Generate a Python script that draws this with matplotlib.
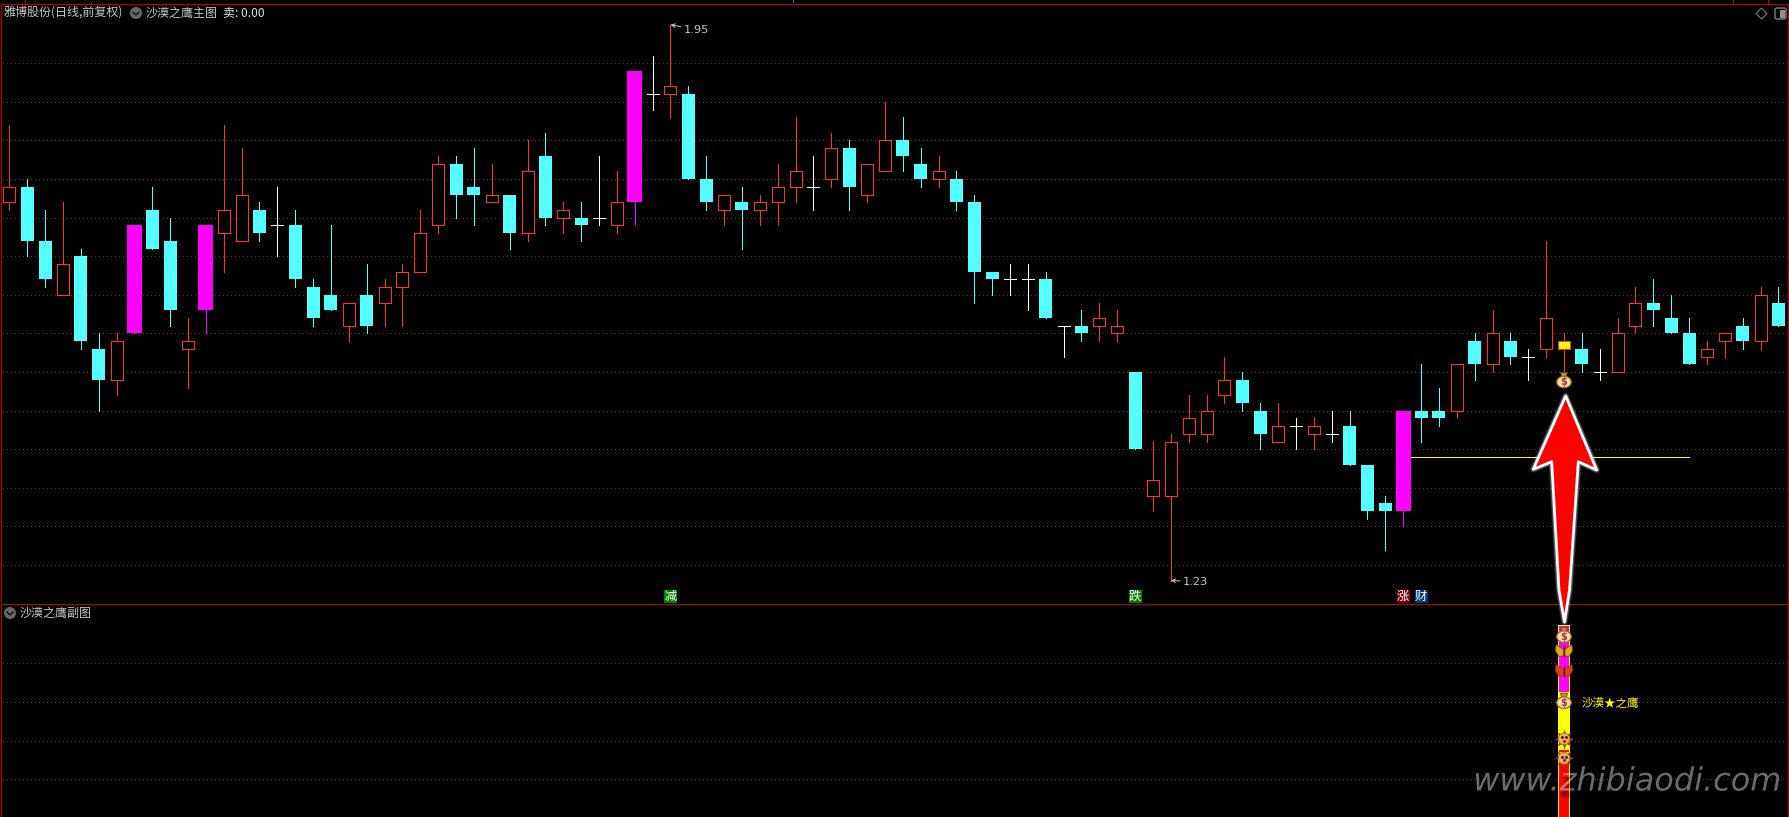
import matplotlib
matplotlib.use("Agg")
import matplotlib.pyplot as plt
import matplotlib.patheffects as pe
from matplotlib.patches import Circle, Ellipse, Polygon, FancyBboxPatch

CJK = ['Noto Sans CJK SC', 'DejaVu Sans']
plt.rcParams['font.family'] = CJK
plt.rcParams['axes.unicode_minus'] = False

# ── candles (price steps of 0.01) ──
# r hollow red, c cyan, m magenta, w white doji, y yellow
kinds = ("rccrccrmcc" "rmrrcwcccr" "crrrrccrcr" "crcwrmwrcc" "rcrrrwrcrr"
         "ccrcccwwcw" "crrcrrrrrc" "crwrwcccmc" "crcrcwrycw" "rrcccrrcrc")
highs = [1.82, 1.75, 1.71, 1.72, 1.66, 1.55, 1.55, 1.69, 1.74, 1.70,
         1.57, 1.69, 1.82, 1.79, 1.72, 1.74, 1.71, 1.62, 1.69, 1.59,
         1.64, 1.62, 1.64, 1.71, 1.78, 1.78, 1.79, 1.77, 1.73, 1.80,
         1.81, 1.72, 1.72, 1.78, 1.76, 1.89, 1.91, 1.95, 1.87, 1.78,
         1.73, 1.74, 1.73, 1.77, 1.83, 1.78, 1.81, 1.80, 1.77, 1.85,
         1.83, 1.79, 1.78, 1.76, 1.73, 1.63, 1.64, 1.64, 1.63, 1.56,
         1.58, 1.59, 1.58, 1.50, 1.41, 1.42, 1.47, 1.47, 1.52, 1.50,
         1.46, 1.46, 1.44, 1.44, 1.45, 1.45, 1.38, 1.34, 1.45, 1.51,
         1.48, 1.51, 1.55, 1.58, 1.55, 1.53, 1.67, 1.55, 1.55, 1.53,
         1.57, 1.61, 1.62, 1.60, 1.57, 1.54, 1.55, 1.57, 1.61, 1.61]
body_top = [1.74, 1.74, 1.67, 1.64, 1.65, 1.53, 1.54, 1.69, 1.71, 1.67,
            1.54, 1.69, 1.71, 1.73, 1.71, 1.69, 1.69, 1.61, 1.60, 1.59,
            1.60, 1.61, 1.63, 1.68, 1.77, 1.77, 1.74, 1.73, 1.73, 1.76,
            1.78, 1.71, 1.70, 1.70, 1.72, 1.89, 1.86, 1.87, 1.86, 1.75,
            1.73, 1.72, 1.72, 1.74, 1.76, 1.74, 1.79, 1.79, 1.77, 1.80,
            1.80, 1.77, 1.76, 1.75, 1.72, 1.63, 1.62, 1.62, 1.62, 1.56,
            1.56, 1.57, 1.56, 1.50, 1.36, 1.41, 1.44, 1.45, 1.49, 1.49,
            1.45, 1.43, 1.43, 1.43, 1.42, 1.43, 1.38, 1.33, 1.45, 1.45,
            1.45, 1.51, 1.54, 1.55, 1.54, 1.52, 1.57, 1.54, 1.53, 1.50,
            1.55, 1.59, 1.59, 1.57, 1.55, 1.53, 1.55, 1.56, 1.60, 1.59]
body_bot = [1.72, 1.67, 1.62, 1.60, 1.54, 1.49, 1.49, 1.55, 1.66, 1.58,
            1.53, 1.58, 1.68, 1.67, 1.68, 1.69, 1.62, 1.57, 1.58, 1.56,
            1.56, 1.59, 1.61, 1.63, 1.69, 1.73, 1.73, 1.72, 1.68, 1.68,
            1.70, 1.70, 1.69, 1.70, 1.69, 1.72, 1.86, 1.86, 1.75, 1.72,
            1.71, 1.71, 1.71, 1.72, 1.74, 1.74, 1.75, 1.74, 1.73, 1.76,
            1.78, 1.75, 1.75, 1.72, 1.63, 1.62, 1.62, 1.62, 1.57, 1.56,
            1.55, 1.56, 1.55, 1.40, 1.34, 1.34, 1.42, 1.42, 1.47, 1.46,
            1.42, 1.41, 1.43, 1.42, 1.42, 1.38, 1.32, 1.32, 1.32, 1.44,
            1.44, 1.45, 1.51, 1.51, 1.52, 1.52, 1.53, 1.53, 1.51, 1.50,
            1.50, 1.56, 1.58, 1.55, 1.51, 1.52, 1.54, 1.54, 1.54, 1.56]
lows = [1.71, 1.65, 1.61, 1.60, 1.53, 1.45, 1.47, 1.55, 1.66, 1.56,
        1.48, 1.55, 1.63, 1.67, 1.67, 1.65, 1.61, 1.56, 1.58, 1.54,
        1.55, 1.56, 1.56, 1.63, 1.68, 1.70, 1.69, 1.72, 1.66, 1.67,
        1.69, 1.68, 1.67, 1.69, 1.68, 1.69, 1.84, 1.83, 1.75, 1.71,
        1.69, 1.66, 1.69, 1.69, 1.72, 1.71, 1.74, 1.71, 1.72, 1.76,
        1.76, 1.74, 1.74, 1.71, 1.59, 1.60, 1.60, 1.58, 1.57, 1.52,
        1.54, 1.54, 1.54, 1.40, 1.32, 1.23, 1.41, 1.41, 1.46, 1.45,
        1.40, 1.41, 1.40, 1.40, 1.41, 1.38, 1.31, 1.27, 1.30, 1.41,
        1.43, 1.44, 1.49, 1.50, 1.51, 1.49, 1.52, 1.50, 1.50, 1.49,
        1.50, 1.55, 1.56, 1.55, 1.51, 1.51, 1.52, 1.53, 1.53, 1.56]

grid_prices = [1.90, 1.85, 1.80, 1.75, 1.70, 1.65, 1.60, 1.55, 1.50, 1.45, 1.40, 1.35, 1.30, 1.25]
sub_grid = [20, 40, 60, 80]

# yellow level line
level_price = 1.39
level_from, level_to = 78, 94

# signal boxes above the pane border
signal_idx = [37, 63, 78, 79]
signal_text = ['减', '跌', '涨', '财']
signal_bg = ['#008000', '#008000', '#800000', '#003c6e']

# sub pane stack on candle 87
stack_idx = 87
stack_bottom = [65, 35, 34, 28, 0]
stack_top = [100, 65, 35, 34, 28]
stack_color = ['#ff00ff', '#ffff00', '#ff0000', '#ffff00', '#ff0000']

bag_main = (87, 1.4885)
bag_sub = [94.4, 60.2]
butterfly_sub = [86.6, 76.3]
butterfly_color = ['#e0aa10', '#e83a20']
face_sub = [40.9, 30.9]

# ── layout in pixels of the 1790x817 picture ──
W, H = 1790, 817
LEFT, RIGHT, TOP, MID = 1.5, 1788.5, 3.5, 604.5
X0, STEP = 9.3, 17.87
Y190, PX_PER_UNIT = 63.3, 772.0   # y pixel of price 1.90, pixels per 1.00 of price

BLACK = '#000000'
RED = '#ff3232'
CYAN = '#54ffff'
MAGENTA = '#ff00ff'
FRAME = '#c00000'
GRID = '#8a1c1c'
TXT = '#c8c8c8'
PX = 0.72  # one pixel in points

fig = plt.figure(figsize=(W / 100, H / 100), dpi=100, facecolor=BLACK)


def pane(y_top, y_bot):
    a = fig.add_axes([LEFT / W, 1 - y_bot / H, (RIGHT - LEFT) / W, (y_bot - y_top) / H])
    a.set_facecolor(BLACK)
    a.set_xlim((LEFT - X0) / STEP, (RIGHT - X0) / STEP)
    a.set_xticks([])
    a.set_yticks([])
    for s in a.spines.values():
        s.set_color(FRAME)
        s.set_linewidth(PX)
    return a


ax = pane(TOP, MID)
ax.set_ylim(1.90 - (MID - Y190) / PX_PER_UNIT, 1.90 + (Y190 - TOP) / PX_PER_UNIT)
ax_sub = pane(MID, H + 0.5)
ax_sub.set_ylim(20 - (H + 0.5 - 779.3) / 1.93, 20 + (779.3 - MID) / 1.93)
ax_sub.spines['bottom'].set_visible(False)

ov = fig.add_axes([0, 0, 1, 1], zorder=10)
ov.set_xlim(0, W)
ov.set_ylim(H, 0)
ov.axis('off')
ov.patch.set_alpha(0)

ax.hlines(grid_prices, (3 - X0) / STEP, (RIGHT - X0) / STEP, colors=GRID, linewidth=PX,
          linestyles=(0, (1, 4)), antialiased=False, zorder=1)
ax_sub.hlines(sub_grid, (3 - X0) / STEP, (RIGHT - X0) / STEP, colors=GRID, linewidth=PX,
              linestyles=(0, (1, 4)), antialiased=False, zorder=1)

ax.hlines(level_price, level_from, level_to, colors='#ffff00', linewidth=PX, antialiased=False, zorder=2)

wick_colors = {'r': RED, 'c': CYAN, 'm': MAGENTA, 'w': '#ffffff', 'y': RED}
for i, k in enumerate(kinds):
    ax.vlines(i, lows[i], highs[i], colors=wick_colors[k], linewidth=PX, antialiased=False, zorder=3)
    top, bot = body_top[i], body_bot[i]
    if k == 'c':
        ax.bar(i, top - bot, bottom=bot, width=13 / STEP, color=CYAN, linewidth=0, antialiased=False, zorder=4)
    elif k == 'm':
        ax.bar(i, top - bot, bottom=bot, width=15 / STEP, color=MAGENTA, linewidth=0, antialiased=False, zorder=4)
    elif k == 'r':
        ax.bar(i, top - bot, bottom=bot, width=12 / STEP, facecolor=BLACK, edgecolor=RED,
               linewidth=PX, antialiased=False, zorder=4)
    elif k == 'y':
        ax.bar(i, top - bot, bottom=bot, width=12 / STEP, facecolor='#ffff00', edgecolor=RED,
               linewidth=PX, antialiased=False, zorder=4)
    else:
        ax.hlines(top, i - 6 / STEP, i + 6 / STEP, colors='#ffffff', linewidth=PX, antialiased=False, zorder=4)

# high / low flags
ax.annotate('1.95', xy=(37, 1.95), xytext=(13 * PX, -5 * PX), textcoords='offset points',
            color=TXT, fontsize=8.2, family='DejaVu Sans', va='center', ha='left', zorder=6,
            arrowprops=dict(arrowstyle='->,head_width=0.15,head_length=0.3', color=TXT, lw=PX, shrinkA=0, shrinkB=0))
ax.annotate('1.23', xy=(65, 1.23), xytext=(12 * PX, -1 * PX), textcoords='offset points',
            color=TXT, fontsize=8.2, family='DejaVu Sans', va='center', ha='left', zorder=6,
            arrowprops=dict(arrowstyle='->,head_width=0.15,head_length=0.3', color=TXT, lw=PX, shrinkA=0, shrinkB=0))

for i, t, bg in zip(signal_idx, signal_text, signal_bg):
    cx = X0 + STEP * i
    ov.add_patch(plt.Rectangle((cx - 6.5, 590), 13, 13, facecolor=bg, edgecolor='none', antialiased=False))
    ov.text(cx, 596.5, t, color='white', fontsize=8.8, ha='center', va='center', family=CJK)

for b, t, c in zip(stack_bottom, stack_top, stack_color):
    ax_sub.bar(stack_idx, t - b, bottom=b, width=11 / STEP, color=c, linewidth=0, antialiased=False, zorder=3)
ax_sub.vlines([stack_idx - 5.5 / STEP, stack_idx + 5.5 / STEP], 0, 100, colors='#ffff00', linewidth=PX,
              antialiased=False, zorder=4)
ax_sub.hlines(100, stack_idx - 5.5 / STEP, stack_idx + 5.5 / STEP, colors='#ffff00', linewidth=PX,
              antialiased=False, zorder=4)


def to_px(a, x, y):
    return ov.transData.inverted().transform(a.transData.transform((x, y)))


def draw_bag(cx, cy):
    ov.add_patch(Polygon([(cx - 3.5, cy - 8.5), (cx + 3.5, cy - 8.5), (cx + 2, cy - 4), (cx - 2, cy - 4)],
                         facecolor='#c89030', edgecolor='#5a3a10', lw=0.6, zorder=6))
    ov.add_patch(Ellipse((cx, cy + 1), 14.5, 11.5, facecolor='#f8e0a0', edgecolor='#a06a18', lw=0.9, zorder=6))
    ov.text(cx, cy + 1, '$', color='#a03058', fontsize=7, fontweight='bold', ha='center', va='center',
            family='DejaVu Sans', zorder=7)


def draw_butterfly(cx, cy, col):
    left = [(cx, cy - 1), (cx - 8, cy - 6), (cx - 8.5, cy), (cx - 5, cy + 6), (cx - 1, cy + 5)]
    right = [(cx, cy - 1), (cx + 8, cy - 6), (cx + 8.5, cy), (cx + 5, cy + 6), (cx + 1, cy + 5)]
    for pts in (left, right):
        ov.add_patch(Polygon(pts, facecolor=col, edgecolor='#7a4010', lw=0.5, zorder=6))
    ov.plot([cx, cx], [cy - 5, cy + 5], color='#402008', lw=0.9, zorder=7)


def draw_face(cx, cy):
    ov.scatter([cx], [cy], marker=(8, 1, 0), s=200, color='#8a4c14', linewidths=0, zorder=6)
    ov.add_patch(Circle((cx, cy), 5.8, facecolor='#f0ae6e', edgecolor='#a86420', lw=0.5, zorder=7))
    ov.scatter([cx - 2, cx + 2], [cy - 1.5, cy - 1.5], s=4, color='#301808', linewidths=0, zorder=8)
    ov.scatter([cx], [cy + 2.2], s=5, color='#a02818', linewidths=0, zorder=8)


draw_bag(*to_px(ax, *bag_main))
for v in bag_sub:
    draw_bag(*to_px(ax_sub, stack_idx, v))
for v, c in zip(butterfly_sub, butterfly_color):
    draw_butterfly(*to_px(ax_sub, stack_idx, v), c)
for v in face_sub:
    draw_face(*to_px(ax_sub, stack_idx, v))

# big red arrow, pixel outline with a soft white glow
arrow = [(1565.7, 396), (1596.7, 470), (1578.3, 461.7), (1569.5, 590), (1564.5, 622),
         (1559.0, 590), (1551.7, 461.7), (1533.3, 469.3)]
for lw, a in ((5.0, 0.12), (3.6, 0.25)):
    ov.add_patch(Polygon(arrow, closed=True, facecolor='none', edgecolor='white', lw=lw, alpha=a,
                         joinstyle='round', zorder=8))
ov.add_patch(Polygon(arrow, closed=True, facecolor='#ff0000', edgecolor='white', lw=2.0, joinstyle='round', zorder=9))

# header texts
HEAD_FS = 8.64
ov.text(4, 13, '雅博股份(日线,前复权)', color=TXT, fontsize=HEAD_FS, va='center', ha='left', family=CJK)
ov.text(146, 13, '沙漠之鹰主图', color=TXT, fontsize=HEAD_FS, va='center', ha='left', family=CJK)
ov.text(223, 13, '卖: 0.00', color='#e0e0e0', fontsize=HEAD_FS, va='center', ha='left', family=CJK)
ov.text(20, 613, '沙漠之鹰副图', color=TXT, fontsize=HEAD_FS, va='center', ha='left', family=CJK)
ov.text(1582, 703, '沙漠★之鹰', color='#ffff00', fontsize=8.3, va='center', ha='left', family=CJK)

for cx, cy in ((136, 13), (10, 613)):
    ov.add_patch(Circle((cx, cy), 6, facecolor='#686868', edgecolor='none'))
    ov.plot([cx - 3, cx, cx + 3], [cy - 1, cy + 2, cy - 1], color='#101010', lw=1.0)

# corner icons and small ticks on the top frame
ov.add_patch(Polygon([(1761.5, 8), (1767, 13.5), (1761.5, 19), (1756, 13.5)], facecolor='none', edgecolor='#808080', lw=PX))
ov.add_patch(FancyBboxPatch((1776, 9), 9, 9, boxstyle='round,pad=1,rounding_size=2', facecolor='none', edgecolor='#808080', lw=1.0))
ov.add_patch(plt.Rectangle((1780, 9.5), 5, 8, facecolor='#909090', edgecolor='none'))
ov.vlines([25, 1733.5, 1768.5], 0, 3, colors=FRAME, linewidth=PX, antialiased=False)
ov.vlines([793], 0, 1.5, colors='#4080c0', linewidth=PX, antialiased=False)

# watermark: dark shadow as path effects, translucent face so the red bar shows through
ov.text(1627.5, 782, 'www.zhibiaodi.com', color=(1, 1, 1, 0.42), fontsize=23, style='italic',
        family='DejaVu Sans', ha='center', va='center', zorder=9,
        path_effects=[pe.SimplePatchShadow(offset=(1, -5), shadow_rgbFace='black', alpha=0.3),
                      pe.SimplePatchShadow(offset=(0, -3), shadow_rgbFace='black', alpha=0.3),
                      pe.Normal()])

fig.savefig('out.png', dpi=100, facecolor=BLACK)
